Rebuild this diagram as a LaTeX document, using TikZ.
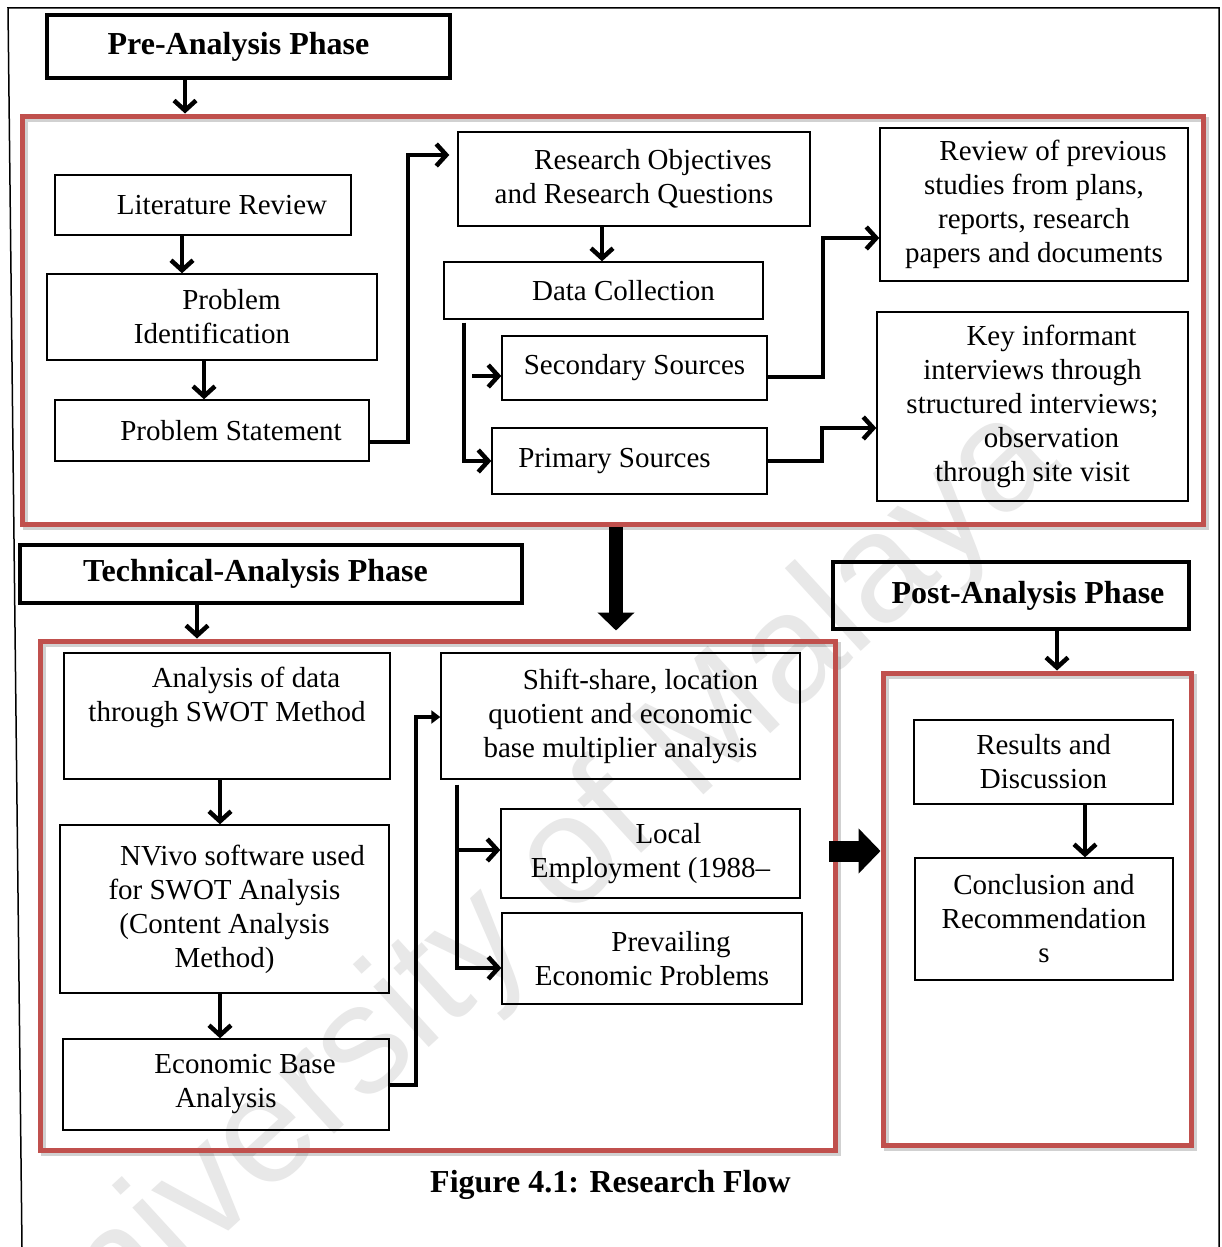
\documentclass[tikz,border=0pt]{standalone}
\usepackage{fontspec}
\setmainfont{Liberation Serif}
\newfontfamily\markfont{Liberation Sans}
\usetikzlibrary{arrows.meta}
\definecolor{framered}{RGB}{192,80,77}
\definecolor{markgray}{RGB}{232,232,232}
\begin{document}
\begin{tikzpicture}[x=1pt,y=-1pt,
  box/.style={draw=black, line width=1.4pt, inner sep=0pt, align=center, font=\fontsize{29}{34}\selectfont},
  txt/.style={inner sep=0pt, align=center, font=\fontsize{29}{34}\selectfont},
  phase/.style={draw=black, line width=3.5pt, inner sep=0pt, font=\fontsize{32}{38}\selectfont\bfseries},
  redframe/.style={draw=framered, line width=5pt, inner sep=0pt},
  frameshadow/.style={draw=black, opacity=0.18, line width=5pt},
  conn/.style={line width=4.5pt, -{Straight Barb[length=10pt,width=22pt]}},
  connsmall/.style={line width=4pt, -{Triangle[length=9pt,width=13pt]}},
  bigdown/.style={line width=14pt, -{Triangle[length=18pt,width=36pt]}},
  bigright/.style={line width=21pt, -{Triangle[length=22pt,width=44pt]}},
]
\useasboundingbox (0,0) rectangle (1221,1247);
\fill[white] (0,0) rectangle (1221,1247);

% watermark behind everything
\node[rotate=42.5, text=markgray, font=\markfont\fontsize{155}{155}\selectfont, inner sep=0pt] (wmark) at (522,908) {University of Malaya};

% page frame
\draw[line width=1.5pt] (22,1247) -- (8,8) -- (1219,8) -- (1219,1247);

% soft shadows of the phase frames
\draw[frameshadow] (25,119) rectangle (1206,527);
\draw[frameshadow] (43,644) rectangle (838,1153);
\draw[frameshadow] (886,676) rectangle (1194,1148);

% phase frames
\node[redframe, minimum width=1181, minimum height=408] (f1) at (612.5,320) {};
\node[redframe, minimum width=795, minimum height=509] (f2) at (437.5,895.5) {};
\node[redframe, minimum width=308, minimum height=472] (f3) at (1037,909) {};

% phase titles
\node[phase, minimum width=403, minimum height=63] (pre) at (248.5,46.5) {Pre-Analysis Phase\hspace*{20pt}};
\node[phase, minimum width=502, minimum height=58] (tech) at (271,574) {Technical-Analysis Phase\hspace*{31pt}};
\node[phase, minimum width=356, minimum height=67] (post) at (1011,595.5) {\hspace*{34pt}Post-Analysis Phase};

% pre-analysis boxes
\node[box, minimum width=296, minimum height=60] (lit) at (203,205) {\hspace*{38pt}Literature Review};
\node[box, minimum width=330, minimum height=86] (pid) at (212,317) {\hspace*{39pt}Problem\\Identification};
\node[box, minimum width=314, minimum height=61] (pst) at (212,430.5) {\hspace*{38pt}Problem Statement};
\node[box, minimum width=352, minimum height=94] (rob) at (634,179) {\hspace*{38pt}Research Objectives\\and Research Questions};
\node[box, minimum width=319, minimum height=57] (dcol) at (603.5,290.5) {\hspace*{40pt}Data Collection};
\node[box, minimum width=265, minimum height=64] (sec) at (634.5,368) {Secondary Sources};
\node[box, minimum width=275, minimum height=66] (pri) at (629.5,461) {Primary Sources\hspace*{30pt}};
\node[box, minimum width=308, minimum height=153] (rev) at (1034,204.5) {\hspace*{38pt}Review of previous\\studies from plans,\\reports, research\\papers and documents};
\node[box, minimum width=311, minimum height=189] (key) at (1032.5,406.5) {\hspace*{38pt}Key informant\\interviews through\\structured interviews;\\\hspace*{38pt}observation\\through site visit};

% technical-analysis boxes
\node[box, minimum width=326, minimum height=126] (ana) at (227,716) {};
\node[txt] (anatext) at (227,697.5) {\hspace*{38pt}Analysis of data\\through SWOT Method};
\node[box, minimum width=329, minimum height=168] (nviv) at (224.5,909) {\hspace*{36pt}NVivo software used\\for SWOT Analysis\\(Content Analysis\\Method)};
\node[box, minimum width=326, minimum height=91] (eba) at (226,1084.5) {\hspace*{38pt}Economic Base\\Analysis};
\node[box, minimum width=359, minimum height=126] (shf) at (620.5,716) {\hspace*{40pt}Shift-share, location\\quotient and economic\\base multiplier analysis};
\node[box, minimum width=299, minimum height=89] (loc) at (650.5,853.5) {\hspace*{36pt}Local\\Employment (1988–};
\node[box, minimum width=300, minimum height=91] (prev) at (652,958.5) {\hspace*{38pt}Prevailing\\Economic Problems};

% post-analysis boxes
\node[box, minimum width=259, minimum height=84] (res) at (1043.5,762) {Results and\\Discussion};
\node[box, minimum width=258, minimum height=122] (con) at (1044,919) {Conclusion and\\Recommendation\\s};

% caption
\node[inner sep=0pt, font=\fontsize{32}{38}\selectfont\bfseries] (cap) at (610.5,1185) {Figure 4.1: Research Flow};

% connector columns and bends
\coordinate (cA) at (185,0);
\coordinate (cB) at (182,0);
\coordinate (cC) at (204,0);
\coordinate (cD) at (602,0);
\coordinate (cE) at (464,0);
\coordinate (cF) at (616,0);
\coordinate (cG) at (197,0);
\coordinate (cH) at (220,0);
\coordinate (cI) at (457,0);
\coordinate (cJ) at (1057,0);
\coordinate (cK) at (1085,0);
\coordinate (b1) at (408,155);
\coordinate (b2) at (823,238);
\coordinate (b3) at (822,428);
\coordinate (b4) at (416,717);
\coordinate (b5) at (829,851);

% pre-analysis flow
\draw[conn] (pre.south -| cA) -- (f1.north -| cA);
\draw[conn] (lit.south -| cB) -- (pid.north -| cB);
\draw[conn] (pid.south -| cC) -- (pst.north -| cC);
\draw[conn, shorten >=8pt] ([yshift=-11.5pt]pst.east) -| (b1) -- (b1 -| rob.west);
\draw[conn] (rob.south -| cD) -- (dcol.north -| cD);
\draw[conn] ([yshift=-3pt]dcol.south -| cE) |- (pri.west);
\draw[conn] ([xshift=-29pt,yshift=-8pt]sec.west) -- ([yshift=-8pt]sec.west);
\draw[conn] ([yshift=-9pt]sec.east) -| (b2) -- (b2 -| rev.west);
\draw[conn] (pri.east) -| (b3) -- (b3 -| key.west);

% between phases
\draw[bigdown, shorten >=8pt] (f1.south -| cF) -- (f2.north -| cF);
\draw[conn] (tech.south -| cG) -- (f2.north -| cG);
\draw[bigright] (b5) -- (b5 -| f3.west);
\draw[conn] (post.south -| cJ) -- (f3.north -| cJ);

% technical-analysis flow
\draw[conn] (ana.south -| cH) -- (nviv.north -| cH);
\draw[conn] (nviv.south -| cH) -- (eba.north -| cH);
\draw[connsmall] (eba.east) -| (b4) -- (b4 -| shf.west);
\draw[conn] ([yshift=-5pt]shf.south -| cI) |- ([yshift=-9.5pt]prev.west);
\draw[conn] ([yshift=3.5pt]loc.west -| cI) -- ([yshift=3.5pt]loc.west);

% post-analysis flow
\draw[conn] (res.south -| cK) -- (con.north -| cK);
\end{tikzpicture}
\end{document}
